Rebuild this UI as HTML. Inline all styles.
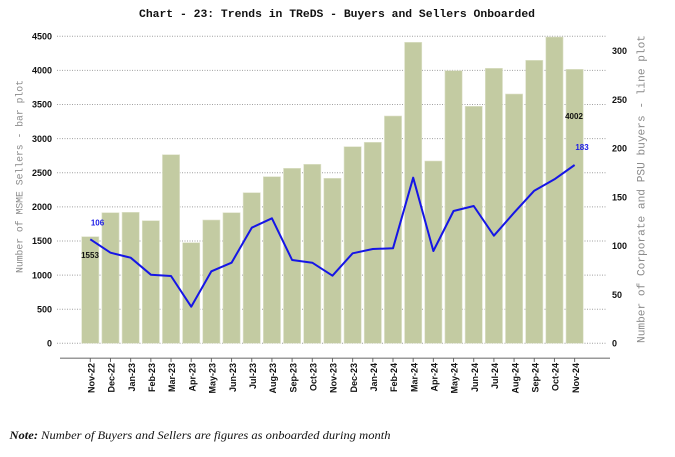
<!DOCTYPE html>
<html><head><meta charset="utf-8"><style>
html,body{margin:0;padding:0;background:#fff;}
svg{display:block;}
</style></head><body>
<svg width="675" height="457" viewBox="0 0 675 457" xmlns="http://www.w3.org/2000/svg">
<rect width="675" height="457" fill="#fff"/>
<text x="337" y="17" text-anchor="middle" font-family="Liberation Mono, monospace" font-weight="bold" font-size="11.2" fill="#111" textLength="396" lengthAdjust="spacingAndGlyphs">Chart - 23: Trends in TReDS - Buyers and Sellers Onboarded</text>
<g stroke="#a0a0a0" stroke-width="1" stroke-dasharray="1,1.5">
<line x1="57" x2="607" y1="343.3" y2="343.3"/>
<line x1="57" x2="607" y1="309.2" y2="309.2"/>
<line x1="57" x2="607" y1="275.1" y2="275.1"/>
<line x1="57" x2="607" y1="241.0" y2="241.0"/>
<line x1="57" x2="607" y1="206.9" y2="206.9"/>
<line x1="57" x2="607" y1="172.7" y2="172.7"/>
<line x1="57" x2="607" y1="138.6" y2="138.6"/>
<line x1="57" x2="607" y1="104.5" y2="104.5"/>
<line x1="57" x2="607" y1="70.4" y2="70.4"/>
<line x1="57" x2="607" y1="36.3" y2="36.3"/>
</g>
<g font-family="Liberation Sans, sans-serif" font-weight="bold" font-size="9" fill="#111" text-anchor="end">
<text x="52" y="346.5">0</text>
<text x="52" y="312.4">500</text>
<text x="52" y="278.3">1000</text>
<text x="52" y="244.2">1500</text>
<text x="52" y="210.1">2000</text>
<text x="52" y="175.9">2500</text>
<text x="52" y="141.8">3000</text>
<text x="52" y="107.7">3500</text>
<text x="52" y="73.6">4000</text>
<text x="52" y="39.5">4500</text>
</g>
<g font-family="Liberation Sans, sans-serif" font-weight="bold" font-size="9" fill="#111" text-anchor="start">
<text x="612" y="346.5">0</text>
<text x="612" y="297.8">50</text>
<text x="612" y="249.1">100</text>
<text x="612" y="200.4">150</text>
<text x="612" y="151.6">200</text>
<text x="612" y="102.9">250</text>
<text x="612" y="54.2">300</text>
</g>
<g fill="#c3cba2" stroke="#dfe3cc" stroke-width="0.6">
<rect x="81.7" y="236.7" width="17.2" height="106.6"/>
<rect x="101.88" y="212.7" width="17.2" height="130.6"/>
<rect x="122.06" y="212.3" width="17.2" height="131.0"/>
<rect x="142.24" y="220.7" width="17.2" height="122.6"/>
<rect x="162.42" y="154.7" width="17.2" height="188.6"/>
<rect x="182.6" y="242.7" width="17.2" height="100.6"/>
<rect x="202.78" y="220.0" width="17.2" height="123.3"/>
<rect x="222.96" y="212.7" width="17.2" height="130.6"/>
<rect x="243.14" y="192.7" width="17.2" height="150.6"/>
<rect x="263.32" y="176.7" width="17.2" height="166.6"/>
<rect x="283.5" y="168.3" width="17.2" height="175.0"/>
<rect x="303.68" y="164.3" width="17.2" height="179.0"/>
<rect x="323.86" y="178.3" width="17.2" height="165.0"/>
<rect x="344.04" y="146.7" width="17.2" height="196.6"/>
<rect x="364.22" y="142.3" width="17.2" height="201.0"/>
<rect x="384.4" y="116.0" width="17.2" height="227.3"/>
<rect x="404.58" y="42.3" width="17.2" height="301.0"/>
<rect x="424.76" y="161.0" width="17.2" height="182.3"/>
<rect x="444.94" y="70.7" width="17.2" height="272.6"/>
<rect x="465.12" y="106.3" width="17.2" height="237.0"/>
<rect x="485.3" y="68.3" width="17.2" height="275.0"/>
<rect x="505.48" y="94.0" width="17.2" height="249.3"/>
<rect x="525.66" y="60.3" width="17.2" height="283.0"/>
<rect x="545.84" y="37.0" width="17.2" height="306.3"/>
<rect x="566.02" y="69.3" width="17.2" height="274.0"/>
</g>
<polyline fill="none" stroke="#1515e6" stroke-width="2" stroke-linejoin="round" points="90.3,239.3 110.48,252.7 130.66,257.7 150.84,274.7 171.02,276 191.2,306.7 211.38,271.3 231.56,262.7 251.74,227.7 271.92,218.3 292.1,260 312.28,262.7 332.46,275.7 352.64,253.3 372.82,249 393.0,248.3 413.18,177.7 433.36,251 453.54,211 473.72,206 493.9,235.7 514.08,212.7 534.26,190.7 554.44,179.3 574.62,165"/>
<g font-family="Liberation Sans, sans-serif" font-weight="bold" font-size="8">
<text x="97.5" y="225.5" text-anchor="middle" fill="#1a1ae6">106</text>
<text x="90" y="258" text-anchor="middle" fill="#111">1553</text>
<text x="574" y="119" text-anchor="middle" fill="#111">4002</text>
<text x="582" y="150" text-anchor="middle" fill="#1a1ae6">183</text>
</g>
<line x1="60" x2="610" y1="358.3" y2="358.3" stroke="#999" stroke-width="1.5"/>
<g stroke="#666" stroke-width="1">
<line x1="90.3" x2="90.3" y1="358" y2="362"/><line x1="110.48" x2="110.48" y1="358" y2="362"/><line x1="130.66" x2="130.66" y1="358" y2="362"/><line x1="150.84" x2="150.84" y1="358" y2="362"/><line x1="171.02" x2="171.02" y1="358" y2="362"/><line x1="191.2" x2="191.2" y1="358" y2="362"/><line x1="211.38" x2="211.38" y1="358" y2="362"/><line x1="231.56" x2="231.56" y1="358" y2="362"/><line x1="251.74" x2="251.74" y1="358" y2="362"/><line x1="271.92" x2="271.92" y1="358" y2="362"/><line x1="292.1" x2="292.1" y1="358" y2="362"/><line x1="312.28" x2="312.28" y1="358" y2="362"/><line x1="332.46" x2="332.46" y1="358" y2="362"/><line x1="352.64" x2="352.64" y1="358" y2="362"/><line x1="372.82" x2="372.82" y1="358" y2="362"/><line x1="393.0" x2="393.0" y1="358" y2="362"/><line x1="413.18" x2="413.18" y1="358" y2="362"/><line x1="433.36" x2="433.36" y1="358" y2="362"/><line x1="453.54" x2="453.54" y1="358" y2="362"/><line x1="473.72" x2="473.72" y1="358" y2="362"/><line x1="493.9" x2="493.9" y1="358" y2="362"/><line x1="514.08" x2="514.08" y1="358" y2="362"/><line x1="534.26" x2="534.26" y1="358" y2="362"/><line x1="554.44" x2="554.44" y1="358" y2="362"/><line x1="574.62" x2="574.62" y1="358" y2="362"/>
</g>
<g font-family="Liberation Sans, sans-serif" font-weight="bold" font-size="9" fill="#111" text-anchor="end">
<text transform="translate(94.5,363) rotate(-90)">Nov-22</text>
<text transform="translate(114.7,363) rotate(-90)">Dec-22</text>
<text transform="translate(134.9,363) rotate(-90)">Jan-23</text>
<text transform="translate(155.0,363) rotate(-90)">Feb-23</text>
<text transform="translate(175.2,363) rotate(-90)">Mar-23</text>
<text transform="translate(195.4,363) rotate(-90)">Apr-23</text>
<text transform="translate(215.6,363) rotate(-90)">May-23</text>
<text transform="translate(235.8,363) rotate(-90)">Jun-23</text>
<text transform="translate(255.9,363) rotate(-90)">Jul-23</text>
<text transform="translate(276.1,363) rotate(-90)">Aug-23</text>
<text transform="translate(296.3,363) rotate(-90)">Sep-23</text>
<text transform="translate(316.5,363) rotate(-90)">Oct-23</text>
<text transform="translate(336.7,363) rotate(-90)">Nov-23</text>
<text transform="translate(356.8,363) rotate(-90)">Dec-23</text>
<text transform="translate(377.0,363) rotate(-90)">Jan-24</text>
<text transform="translate(397.2,363) rotate(-90)">Feb-24</text>
<text transform="translate(417.4,363) rotate(-90)">Mar-24</text>
<text transform="translate(437.6,363) rotate(-90)">Apr-24</text>
<text transform="translate(457.7,363) rotate(-90)">May-24</text>
<text transform="translate(477.9,363) rotate(-90)">Jun-24</text>
<text transform="translate(498.1,363) rotate(-90)">Jul-24</text>
<text transform="translate(518.3,363) rotate(-90)">Aug-24</text>
<text transform="translate(538.5,363) rotate(-90)">Sep-24</text>
<text transform="translate(558.6,363) rotate(-90)">Oct-24</text>
<text transform="translate(578.8,363) rotate(-90)">Nov-24</text>
</g>
<text transform="translate(22.5,176.5) rotate(-90)" text-anchor="middle" font-family="Liberation Mono, monospace" font-size="9.75" fill="#8a8a8a" textLength="193" lengthAdjust="spacingAndGlyphs">Number of MSME Sellers - bar plot</text>
<text transform="translate(644.5,189) rotate(-90)" text-anchor="middle" font-family="Liberation Mono, monospace" font-size="11" fill="#8a8a8a" textLength="308" lengthAdjust="spacingAndGlyphs">Number of Corporate and PSU buyers - line plot</text>
<text x="9.5" y="439" font-family="Liberation Serif, serif" font-style="italic" font-size="11.5" fill="#111" textLength="381" lengthAdjust="spacingAndGlyphs"><tspan font-weight="bold">Note:</tspan> Number of Buyers and Sellers are figures as onboarded during month</text>
</svg>
</body></html>
